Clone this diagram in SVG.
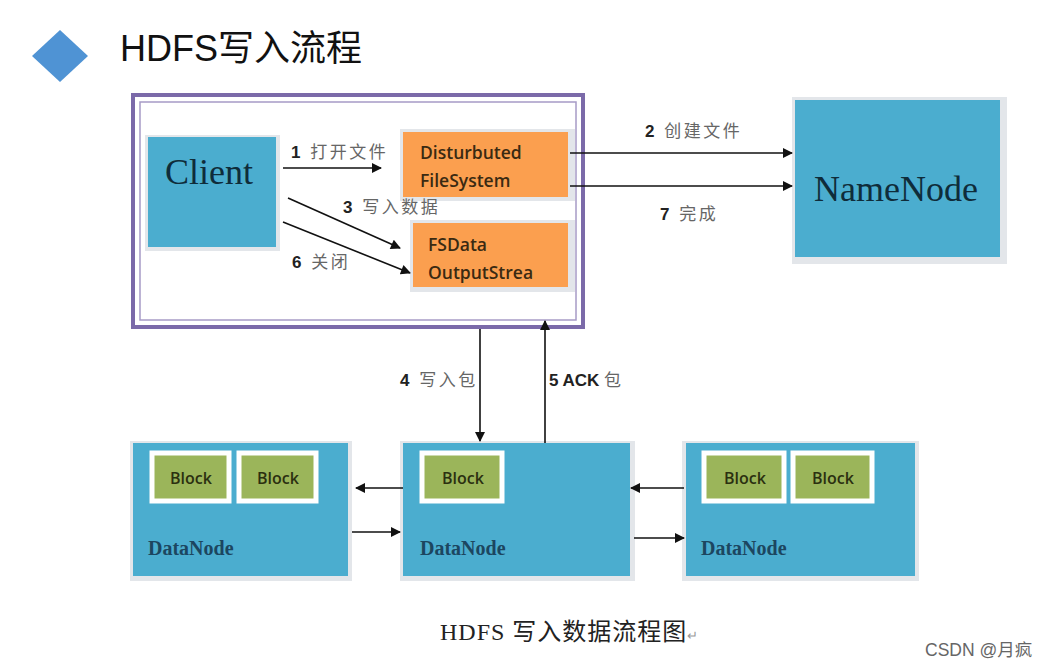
<svg xmlns="http://www.w3.org/2000/svg" width="1052" height="668" viewBox="0 0 1052 668">
<defs>
<marker id="ah" viewBox="0 0 10 10" refX="9" refY="5" markerWidth="11" markerHeight="10" markerUnits="userSpaceOnUse" orient="auto">
<path d="M0,0 L10,5 L0,10 z" fill="#111"/>
</marker>
</defs>
<style>
.blue{fill:#4badcf;}
.shadow{fill:#e3e6ea;}
.orange{fill:#fb9f4f;}
.block{fill:#9bb55a;stroke:#ffffff;stroke-width:5;}
.conn{stroke:#111;stroke-width:1.6;fill:none;marker-end:url(#ah);}
.lbl{font-family:"Liberation Sans","Noto Sans CJK SC",sans-serif;font-size:17px;fill:#666;letter-spacing:2.5px;}
.num{font-weight:bold;fill:#222;}
.serif{font-family:"Liberation Serif","Noto Sans CJK SC",serif;fill:#0f2c3a;}
.cal{font-family:"Open Sans","Liberation Sans",sans-serif;font-size:17.5px;fill:#3a2a12;font-weight:600;}
.blk{font-family:"Open Sans","Liberation Sans",sans-serif;font-size:16px;fill:#2b3010;font-weight:600;}
.dn{font-family:"Liberation Serif",serif;font-size:20px;font-weight:bold;fill:#1c4660;}
</style>
<rect width="1052" height="668" fill="#ffffff"/>
<g id="title">
<polygon points="60,30 88,56 60,82 32,56" fill="#4f93d4"/>
<text x="120" y="61" font-family="'Liberation Sans','Noto Sans CJK SC',sans-serif" font-size="36" fill="#111">HDFS写入流程</text>
</g>
<g id="client-frame">
<rect x="133" y="95" width="450" height="232" fill="#ffffff" stroke="#7b6aa9" stroke-width="4"/>
<rect x="140" y="102" width="436" height="218" fill="none" stroke="#a79bc6" stroke-width="1.5"/>
</g>
<g id="client">
<rect x="145" y="135" width="135" height="116" class="shadow"/>
<rect x="148" y="137" width="128" height="110" class="blue"/>
<text x="209" y="184" text-anchor="middle" class="serif" font-size="36">Client</text>
</g>
<g id="dfs">
<rect x="400" y="129" width="175" height="72" class="shadow"/>
<rect x="403" y="132" width="165" height="65" class="orange"/>
<text x="420" y="159" class="cal">Disturbuted</text>
<text x="420" y="187" class="cal">FileSystem</text>
</g>
<g id="fsdata">
<rect x="410" y="220" width="165" height="72" class="shadow"/>
<rect x="413" y="223" width="155" height="64" class="orange"/>
<text x="428" y="251" class="cal">FSData</text>
<text x="428" y="279" class="cal">OutputStrea</text>
</g>
<g id="namenode">
<rect x="792" y="97" width="215" height="167" class="shadow"/>
<rect x="795" y="100" width="205" height="157" class="blue"/>
<text x="896" y="201" text-anchor="middle" class="serif" font-size="36">NameNode</text>
</g>
<g id="datanode1">
<rect x="130" y="441" width="222" height="140" class="shadow"/>
<rect x="133" y="443" width="215" height="133" class="blue"/>
<rect x="152" y="453" width="77" height="48" class="block"/>
<text x="191" y="484" text-anchor="middle" class="blk">Block</text>
<rect x="239" y="453" width="77" height="48" class="block"/>
<text x="278" y="484" text-anchor="middle" class="blk">Block</text>
<text x="148" y="555" class="dn">DataNode</text>
</g>
<g id="datanode2">
<rect x="400" y="441" width="235" height="140" class="shadow"/>
<rect x="403" y="443" width="227" height="133" class="blue"/>
<rect x="422" y="453" width="80" height="48" class="block"/>
<text x="463" y="484" text-anchor="middle" class="blk">Block</text>
<text x="420" y="555" class="dn">DataNode</text>
</g>
<g id="datanode3">
<rect x="682" y="441" width="237" height="140" class="shadow"/>
<rect x="686" y="443" width="229" height="133" class="blue"/>
<rect x="704" y="453" width="80" height="48" class="block"/>
<text x="745" y="484" text-anchor="middle" class="blk">Block</text>
<rect x="793" y="453" width="79" height="48" class="block"/>
<text x="833" y="484" text-anchor="middle" class="blk">Block</text>
<text x="701" y="555" class="dn">DataNode</text>
</g>
<g id="connectors">
<line x1="283" y1="168" x2="381" y2="168" class="conn"/>
<line x1="288" y1="198" x2="400" y2="248" class="conn"/>
<line x1="283" y1="222" x2="410" y2="273" class="conn"/>
<line x1="570" y1="153" x2="792" y2="153" class="conn"/>
<line x1="570" y1="186" x2="792" y2="186" class="conn"/>
<line x1="480" y1="329" x2="480" y2="441" class="conn"/>
<line x1="545" y1="443" x2="545" y2="321" class="conn"/>
<line x1="403" y1="488" x2="356" y2="488" class="conn"/>
<line x1="352" y1="532" x2="400" y2="532" class="conn"/>
<line x1="684" y1="488" x2="631" y2="488" class="conn"/>
<line x1="634" y1="538" x2="684" y2="538" class="conn"/>
</g>
<g id="labels">
<text x="291" y="158" class="lbl"><tspan class="num">1 </tspan>打开文件</text>
<text x="343" y="213" class="lbl"><tspan class="num">3 </tspan>写入数据</text>
<text x="292" y="268" class="lbl"><tspan class="num">6 </tspan>关闭</text>
<text x="645" y="137" class="lbl"><tspan class="num">2 </tspan>创建文件</text>
<text x="660" y="220" class="lbl"><tspan class="num">7 </tspan>完成</text>
<text x="400" y="386" class="lbl"><tspan class="num">4 </tspan>写入包</text>
<text x="549" y="386" class="lbl" style="letter-spacing:0"><tspan class="num">5 ACK </tspan>包</text>
</g>
<text x="440" y="640" font-family="'Liberation Serif','Noto Sans CJK SC',serif" font-size="24" fill="#222" letter-spacing="1">HDFS 写入数据流程图<tspan font-size="13" fill="#999" letter-spacing="0">↵</tspan></text>
<text x="925" y="656" font-family="'Liberation Sans','Noto Sans CJK SC',sans-serif" font-size="17.5" fill="#666">CSDN @月疯</text>
</svg>
